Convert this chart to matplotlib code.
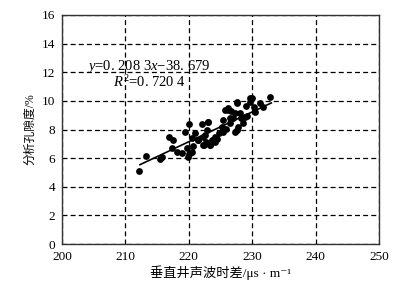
import numpy as np
import matplotlib
matplotlib.use("Agg")
from matplotlib import pyplot as plt

plt.rcParams['font.family'] = ['Liberation Serif', 'Noto Sans CJK SC', 'DejaVu Sans']
plt.rcParams['mathtext.fontset'] = 'custom'
plt.rcParams['mathtext.rm'] = 'Liberation Serif'
plt.rcParams['mathtext.it'] = 'Liberation Serif:italic'

# sonic transit time (us/m) vs porosity (%)
dt = [212.2, 213.2, 215.5, 215.8, 216.8, 217.5, 217.3, 218.1, 218.9, 219.4,
      219.7, 220.1, 220.2, 220.0, 220.7, 221.0, 220.5, 221.5, 222.0, 222.3,
      222.3, 222.7, 222.4, 223.0, 223.3, 223.6, 224.1, 224.4, 224.7, 225.2,
      225.4, 225.4, 225.7, 226.2, 226.6, 226.5, 227.0, 227.3, 227.6, 227.8,
      228.1, 228.6, 229.0, 229.1, 229.7, 229.9, 230.4, 227.6, 226.2, 227.3,
      228.3, 226.5, 223.0, 222.6, 223.3, 221.5, 219.9, 220.5, 231.2, 231.7,
      232.8, 229.7, 227.6, 224.2, 222.8, 225.8, 228.8, 230.2]
phi = [5.12, 6.15, 5.96, 6.10, 7.46, 7.27, 6.69, 6.45, 6.34, 7.85,
       6.69, 8.36, 6.38, 6.29, 6.85, 7.74, 7.39, 7.27, 8.36, 7.46,
       6.92, 7.15, 6.90, 8.55, 6.92, 7.27, 7.50, 7.32, 7.78, 8.20,
       7.85, 8.67, 9.36, 9.48, 9.32, 8.43, 8.78, 7.85, 9.83, 8.20,
       9.13, 8.43, 9.64, 8.94, 9.94, 10.18, 9.25, 7.97, 9.36, 9.13,
       8.78, 8.78, 8.55, 7.62, 6.92, 7.27, 6.10, 6.45, 9.83, 9.60,
       10.30, 10.18, 9.90, 7.10, 7.95, 8.05, 8.90, 9.55]

slope = 0.2083
intercept = -38.679
fit_range = [212.3, 233.0]

fig = plt.figure(figsize=(3.97, 2.94), dpi=100)
ax = fig.add_axes([0.156, 0.170, 0.799, 0.779])

ax.scatter(dt, phi, s=24, color='black', zorder=3, linewidths=0)
xs = np.array(fit_range)
ax.plot(xs, slope * xs + intercept, color='black', lw=1.2, zorder=3)

ax.set_xlim(200, 250)
ax.set_ylim(0, 16)
ax.set_xticks(range(200, 251, 10))
ax.set_yticks(range(0, 17, 2))
ax.grid(True, color='black', linestyle=(0, (4, 2.5)), lw=0.9)
ax.tick_params(length=0, labelsize=9.5, pad=5)
for s in ax.spines.values():
    s.set_linewidth(1.0)
    s.set_color('#333333')

ax.text(203.9, 12.4, r'$y$=0. 208 3$x$$-$38. 679', fontsize=10.5, va='center')
ax.text(208.0, 11.3, r'$R^2$=0. 720 4', fontsize=10.5, va='center')

ax.set_xlabel('垂直井声波时差/μs · m⁻¹', fontsize=9.5, labelpad=2)
ax.set_ylabel('分析孔隙度/%', fontsize=8.5, labelpad=4)

fig.savefig('out.png', dpi=100)
